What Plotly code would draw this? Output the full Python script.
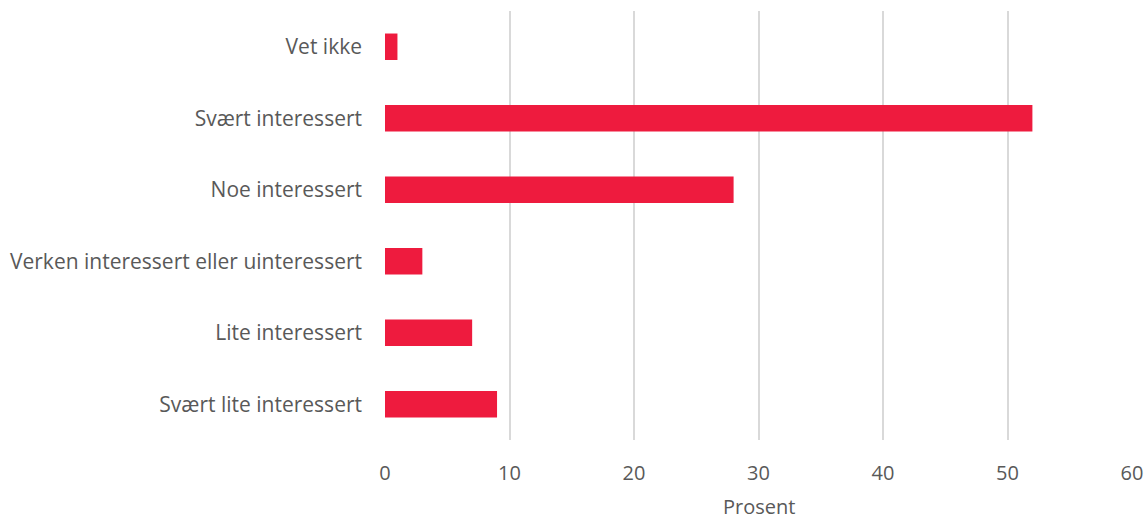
import plotly.graph_objects as go

categories = [
    "Svært lite interessert",
    "Lite interessert",
    "Verken interessert eller uinteressert",
    "Noe interessert",
    "Svært interessert",
    "Vet ikke",
]
percent = [9, 7, 3, 28, 52, 1]
x_ticks = [0, 10, 20, 30, 40, 50, 60]

TEXT = "#595959"
FONT = "'Open Sans', sans-serif"

fig = go.Figure(
    go.Bar(
        y=categories,
        x=percent,
        orientation="h",
        marker=dict(color="#EE1B3E", line=dict(width=0)),
        width=0.37,
    )
)

fig.update_layout(
    width=1148,
    height=519,
    margin=dict(l=385, r=16, t=11, b=79),
    plot_bgcolor="white",
    paper_bgcolor="white",
    showlegend=False,
    font=dict(family=FONT, size=21, color=TEXT),
)
fig.update_xaxes(
    range=[0, 60],
    tickvals=x_ticks,
    showgrid=True,
    gridcolor="#D9D9D9",
    gridwidth=2,
    zeroline=False,
    ticks="",
    ticklabelstandoff=19,
    tickfont=dict(size=20, color=TEXT),
    automargin=False,
)
fig.update_yaxes(
    showgrid=False,
    ticks="",
    ticklabelstandoff=22,
    tickfont=dict(size=21, color=TEXT),
    automargin=False,
)
# axis title placed by hand so the margins stay fixed
fig.add_annotation(
    text="Prosent",
    xref="paper", yref="paper",
    x=0.5, y=-0.155,
    xanchor="center", yanchor="middle",
    showarrow=False,
    font=dict(size=20, color=TEXT),
)

# drop the default 8px body margin so the figure sits flush in the window
fig.write_html(
    "out.html",
    config={"displayModeBar": False},
    post_script="document.body.style.margin='0px';",
)
